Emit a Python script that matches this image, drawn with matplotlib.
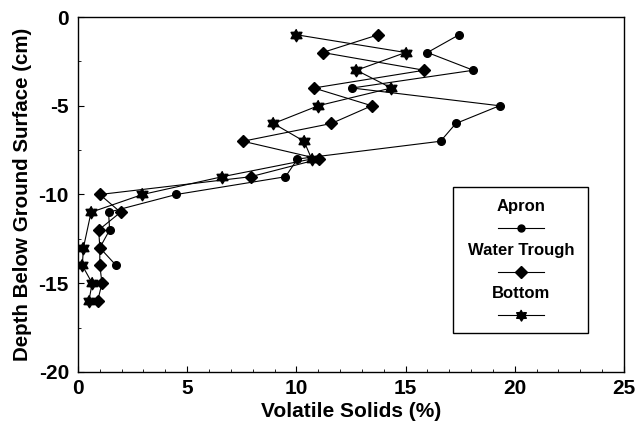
import matplotlib
matplotlib.use("Agg")
import numpy as np
import matplotlib.pyplot as plt
from matplotlib.patches import Rectangle
from matplotlib.path import Path
from matplotlib.ticker import MultipleLocator

plt.rcParams['font.family'] = ['Liberation Sans', 'DejaVu Sans']
plt.rcParams['font.weight'] = 'bold'
plt.rcParams['axes.unicode_minus'] = False

# volatile solids (%) by depth (cm)
apron_depth = [-1, -2, -3, -4, -5, -6, -7, -8, -9, -10, -11, -12, -13, -14]
apron_vs = [17.45, 16.0, 18.1, 12.55, 19.3, 17.3, 16.6, 10.05, 9.5, 4.5, 1.4, 1.45, 1.0, 1.75]

trough_depth = [-1, -2, -3, -4, -5, -6, -7, -8, -9, -10, -11, -12, -13, -14, -15, -16]
trough_vs = [13.75, 11.2, 15.85, 10.8, 13.45, 11.6, 7.55, 11.05, 7.9, 1.0, 1.95, 0.95, 1.0, 1.0, 1.1, 0.9]

bottom_depth = [-1, -2, -3, -4, -5, -6, -7, -8, -9, -10, -11, -13, -14, -15, -16]
bottom_vs = [10.0, 15.0, 12.75, 14.35, 11.0, 8.95, 10.35, 10.7, 6.6, 2.95, 0.6, 0.25, 0.2, 0.65, 0.5]

# six-pointed star (hexagram) marker shape
ang = np.pi / 2 + np.arange(12) * np.pi / 6
rad = np.where(np.arange(12) % 2 == 0, 1.0, 0.6)
hexagram = Path(np.column_stack([rad * np.cos(ang), rad * np.sin(ang)]))

fig = plt.figure(figsize=(6.37, 4.23), dpi=100)
ax = fig.add_axes([0.1224, 0.1206, 0.8572, 0.8392])

ax.plot(apron_vs, apron_depth, color='black', lw=0.8, marker='o', ms=5.5)
ax.plot(trough_vs, trough_depth, color='black', lw=0.8, marker='D', ms=6.5)
ax.plot(bottom_vs, bottom_depth, color='black', lw=0.8, marker=hexagram, ms=9)

ax.set_xlim(0, 25)
ax.set_ylim(-20, 0)
ax.xaxis.set_major_locator(MultipleLocator(5))
ax.xaxis.set_minor_locator(MultipleLocator(1))
ax.yaxis.set_major_locator(MultipleLocator(5))
ax.yaxis.set_minor_locator(MultipleLocator(2.5))
ax.tick_params(which='both', direction='in', labelsize=15)
ax.tick_params(which='major', length=4, width=0.8)
ax.tick_params(which='minor', length=2, width=0.6)
ax.tick_params(axis='x', pad=5)
ax.tick_params(axis='y', pad=6.5)
for lab in ax.get_xticklabels() + ax.get_yticklabels():
    lab.set_fontweight('bold')
for sp in ax.spines.values():
    sp.set_linewidth(1.0)

ax.set_xlabel('Volatile Solids (%)', fontsize=15, fontweight='bold', labelpad=3)
ax.set_ylabel('Depth Below Ground Surface (cm)', fontsize=14.8, fontweight='bold', labelpad=5)

# legend: label above each sample line, inside a box
ax.add_patch(Rectangle((0.687, 0.110), 0.247, 0.411, transform=ax.transAxes,
                       fill=False, edgecolor='black', lw=1.0))
entries = [('Apron', 'o', 5), ('Water Trough', 'D', 6), ('Bottom', hexagram, 8)]
ty = 0.465
for name, mk, ms in entries:
    ax.text(0.811, ty, name, transform=ax.transAxes, ha='center', va='center',
            fontsize=12, fontweight='bold')
    ax.plot([0.769, 0.811, 0.853], [ty - 0.060] * 3, transform=ax.transAxes,
            color='black', lw=0.8, marker=mk, ms=ms, markevery=[1])
    ty -= 0.122

fig.savefig('out.png', dpi=100)
